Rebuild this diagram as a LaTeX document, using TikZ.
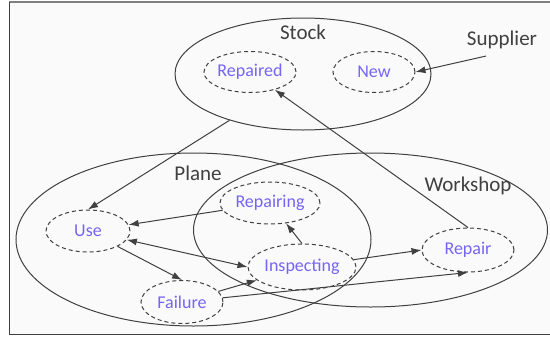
\documentclass[tikz,border=0pt]{standalone}
\usepackage{fontspec}
\setmainfont{Carlito}
\usepackage{xcolor}
\usetikzlibrary{shapes.geometric,arrows.meta}

\definecolor{lineGray}{RGB}{64,64,64}
\definecolor{frameGray}{RGB}{128,128,128}
\definecolor{stateBlue}{RGB}{118,100,245}
\definecolor{paper}{RGB}{250,250,250}

\tikzset{
	pool/.style={ellipse, draw=lineGray, line width=0.5pt, inner sep=0pt},
	state/.style={ellipse, draw=lineGray, dash pattern=on 2pt off 1.5pt, line width=0.5pt, inner sep=0pt, text=stateBlue, font=\fontsize{9}{11}\selectfont},
	title/.style={text=lineGray, font=\fontsize{10.5}{12}\selectfont},
	flow/.style={-{Latex[length=5pt,width=3.5pt]}, draw=lineGray, line width=0.5pt},
}

\begin{document}
\begin{tikzpicture}[x=0.5pt, y=-0.5pt]
		\useasboundingbox (0,0) rectangle (550,337);

		\fill[paper] (9,2) rectangle (552,334);
		\draw[frameGray, line width=0.7pt] (9,2) -- (552,2);
		\draw[lineGray, line width=0.5pt] (9,2) -- (9,334) -- (552,334);

		\node[pool, minimum width=128pt, minimum height=56pt] (stock) at (303,74) {};
		\node[pool, minimum width=177.5pt, minimum height=86.5pt] (plane) at (193.5,239.5) {};
		\node[pool, minimum width=177pt, minimum height=77pt] (workshop) at (370.5,230) {};

		\node[title] (stocklbl) at (303,32) {Stock};
		\node[title] (supplier) at (502,40) {Supplier};
		\node[title] (planelbl) at (198,173) {Plane};
		\node[title] (workshoplbl) at (468,186) {Workshop};

		\node[state, minimum width=45pt, minimum height=20.5pt] (repaired) at (250,72) {Repaired};
		\node[state, minimum width=41pt, minimum height=20.5pt] (new) at (374,72) {New};
		\node[state, minimum width=42pt, minimum height=21pt] (use) at (88,231) {Use};
		\node[state, minimum width=50pt, minimum height=21pt] (repairing) at (270,203) {Repairing};
		\node[state, minimum width=54pt, minimum height=23pt] (inspecting) at (302,267) {Inspecting};
		\node[state, minimum width=46pt, minimum height=22pt] (repair) at (468,250) {Repair};
		\node[state, minimum width=41pt, minimum height=21.5pt] (failure) at (182,302) {Failure};

		\draw[flow] (supplier.225) -- (new.east);
		\draw[flow] (stock) -- (use.north);
		\draw[flow] (repair.north) -- (repaired);

		\draw[flow] (repairing) -- (use);
		\draw[flow, {Latex[length=5pt,width=3.5pt]}-{Latex[length=5pt,width=3.5pt]}] (use) -- (inspecting.west);
		\draw[flow] (use) -- (failure.north);

		\draw[flow] (inspecting.north) -- (repairing);
		\draw[flow] (inspecting) -- (repair.west);
		\draw[flow] (failure) -- (inspecting);
		\draw[flow] (failure) -- (repair.south);
	\end{tikzpicture}
\end{document}
